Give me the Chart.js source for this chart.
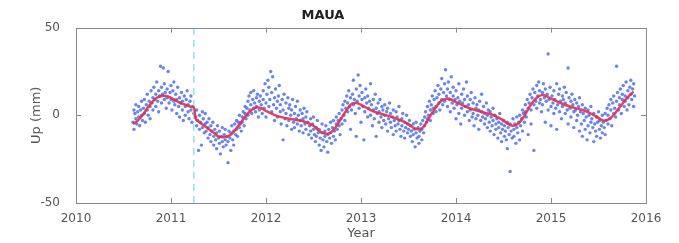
<!DOCTYPE html>
<html lang="en">
<head>
    <meta charset="UTF-8">
    <title>MAUA</title>
    <script src="https://cdn.jsdelivr.net/npm/chart.js"></script>
    <style>
        body { margin: 0; background: #fff; }
        #chart { display: block; }
    </style>
</head>
<body>
<canvas id="chart" width="679" height="243"></canvas>
<script>
    // daily Up positions (decimal year, mm)
    const pts2010 = [[2010.60,-4],[2010.61,3],[2010.61,-8],[2010.62,1],[2010.63,-2],[2010.63,6],[2010.64,-5],[2010.65,2],[2010.66,-1],[2010.66,5],[2010.67,-6],[2010.68,3],[2010.69,0],[2010.69,8],[2010.70,-3],[2010.71,4],[2010.72,1],[2010.72,9],[2010.73,-4],[2010.74,6],[2010.75,3],[2010.75,12],[2010.76,0],[2010.77,8],[2010.78,5],[2010.78,-2],[2010.79,14],[2010.80,7],[2010.81,10],[2010.81,3],[2010.82,16],[2010.83,9],[2010.84,12],[2010.84,5],[2010.85,19],[2010.86,8],[2010.87,14],[2010.87,2],[2010.88,11],[2010.89,28],[2010.90,16],[2010.90,7],[2010.91,12],[2010.92,27],[2010.93,9],[2010.93,18],[2010.94,13],[2010.95,4],[2010.96,15],[2010.96,10],[2010.97,25],[2010.98,7],[2010.99,13]];
    const pts2011 = [[2011.00,17],[2011.00,9],[2011.01,3],[2011.02,14],[2011.03,8],[2011.03,19],[2011.04,6],[2011.05,12],[2011.06,1],[2011.06,9],[2011.07,16],[2011.08,5],[2011.09,10],[2011.09,-1],[2011.10,7],[2011.11,13],[2011.12,3],[2011.12,8],[2011.13,-3],[2011.14,11],[2011.15,5],[2011.15,0],[2011.16,9],[2011.17,14],[2011.18,2],[2011.18,6],[2011.19,-2],[2011.20,8],[2011.21,3],[2011.21,11],[2011.22,-4],[2011.23,5],[2011.24,1],
        [2011.26,-1],[2011.27,-6],[2011.27,3],[2011.28,-3],[2011.29,-20],[2011.30,0],[2011.30,-8],[2011.31,-4],[2011.32,-17],[2011.33,2],[2011.33,-7],[2011.34,-2],[2011.35,-10],[2011.36,-5],[2011.36,1],[2011.37,-9],[2011.38,-4],[2011.39,-13],[2011.39,-7],[2011.40,-2],[2011.41,-11],[2011.42,-6],[2011.42,-15],[2011.43,-9],[2011.44,-4],[2011.45,-12],[2011.45,-17],[2011.46,-8],[2011.47,-14],[2011.48,-10],[2011.48,-19],[2011.49,-6],[2011.50,-13],[2011.51,-16],[2011.51,-9],[2011.52,-22],[2011.53,-12],[2011.54,-7],[2011.54,-15],[2011.55,-18],
        [2011.56,-11],[2011.57,-14],[2011.57,-8],[2011.58,-17],[2011.59,-12],[2011.60,-27],[2011.60,-15],[2011.61,-9],[2011.62,-13],[2011.63,-20],[2011.63,-10],[2011.64,-6],[2011.65,-14],[2011.66,-9],[2011.66,-17],[2011.67,-5],[2011.68,-11],[2011.69,-3],[2011.69,-8],[2011.70,-12],[2011.71,-4],[2011.72,-7],[2011.72,0],[2011.73,-5],[2011.74,-9],[2011.75,-1],[2011.75,-4],[2011.76,2],[2011.77,-6],[2011.78,1],[2011.78,5],[2011.79,-2],[2011.80,4],[2011.81,8],[2011.81,0],[2011.82,11],[2011.83,3],[2011.84,6],[2011.84,13],[2011.85,1],[2011.86,9],[2011.87,4],[2011.87,14],[2011.88,7],[2011.89,2],[2011.90,10],[2011.90,5],[2011.91,12],[2011.92,-1],[2011.93,8],[2011.93,3],[2011.94,11],[2011.95,6],[2011.96,1],[2011.97,9],[2011.97,14],[2011.98,4],[2011.99,18]];
    const pts2012 = [[2012.00,7],[2012.00,-1],[2012.01,12],[2012.02,20],[2012.03,5],[2012.03,16],[2012.04,9],[2012.05,25],[2012.06,2],[2012.06,13],[2012.07,22],[2012.08,6],[2012.09,10],[2012.09,-3],[2012.10,15],[2012.11,4],[2012.12,8],[2012.12,-1],[2012.13,11],[2012.14,17],[2012.15,2],[2012.15,6],[2012.16,-5],[2012.17,9],[2012.18,-14],[2012.18,3],[2012.19,12],[2012.20,-2],[2012.21,7],[2012.21,1],[2012.22,-6],[2012.23,10],[2012.24,4],[2012.24,-3],[2012.25,6],[2012.26,0],[2012.27,-8],[2012.27,3],[2012.28,9],[2012.29,-4],[2012.30,1],[2012.30,-7],[2012.31,5],[2012.32,-2],[2012.33,8],[2012.33,-5],[2012.34,0],[2012.35,-9],[2012.36,3],[2012.36,-3],[2012.37,-6],[2012.38,1],[2012.39,-10],[2012.39,-2],[2012.40,4],[2012.41,-5],[2012.42,-1],[2012.42,-8],[2012.43,2],[2012.44,-4],[2012.45,-11],
        [2012.46,-6],[2012.47,-2],[2012.47,-9],[2012.48,-13],[2012.49,-5],[2012.50,-8],[2012.50,-1],[2012.51,-11],[2012.52,-15],[2012.53,-7],[2012.53,-12],[2012.54,-3],[2012.55,-10],[2012.56,-17],[2012.56,-8],[2012.57,-13],[2012.58,-20],[2012.59,-10],[2012.59,-5],[2012.60,-14],[2012.61,-18],[2012.62,-9],[2012.62,-12],[2012.63,-6],[2012.64,-15],[2012.65,-11],[2012.65,-21],[2012.66,-8],[2012.67,-13],[2012.68,-4],[2012.68,-10],[2012.69,-16],[2012.70,-7],[2012.71,-12],[2012.71,-3],[2012.72,-9],[2012.73,-14],[2012.74,-5],[2012.74,-1],[2012.75,-8],[2012.76,-3],[2012.77,1],[2012.77,-6],[2012.78,-11],[2012.79,-2],[2012.80,3],[2012.80,-5],[2012.81,6],[2012.82,0],[2012.83,8],[2012.83,-3],[2012.84,4],[2012.85,11],[2012.86,2],[2012.86,7],[2012.87,14],[2012.88,5],[2012.89,10],[2012.89,-8],[2012.90,3],
        [2012.91,12],[2012.92,6],[2012.92,20],[2012.93,9],[2012.94,1],[2012.95,15],[2012.95,-12],[2012.96,8],[2012.97,23],[2012.98,4],[2012.98,11],[2012.99,17]];
    const pts2013 = [[2013.00,-4],[2013.01,9],[2013.01,13],[2013.02,5],[2013.03,-14],[2013.04,10],[2013.04,2],[2013.05,15],[2013.06,7],[2013.07,-1],[2013.07,11],[2013.08,4],[2013.09,8],[2013.10,18],[2013.10,0],[2013.11,6],[2013.12,-6],[2013.13,9],[2013.13,3],[2013.14,-2],[2013.15,12],[2013.16,4],[2013.16,-12],[2013.17,1],[2013.18,7],[2013.19,-4],[2013.19,2],[2013.20,9],[2013.21,-1],[2013.22,5],[2013.22,-7],[2013.23,3],[2013.24,-3],[2013.25,6],[2013.25,0],[2013.26,-5],[2013.27,2],[2013.28,-9],[2013.28,4],[2013.29,-2],[2013.30,7],[2013.31,-4],[2013.31,1],[2013.32,-7],[2013.33,-1],[2013.34,3],[2013.34,-11],[2013.35,-3],[2013.36,-6],[2013.37,2],[2013.37,-9],[2013.38,-1],[2013.39,-5],[2013.40,5],[2013.40,-3],[2013.41,-8],[2013.42,-12],[2013.43,-2],[2013.43,-6],[2013.44,1],[2013.45,-9],[2013.46,-4],[2013.46,-13],[2013.47,-7],[2013.48,0],[2013.49,-10],[2013.49,-5],[2013.50,-8],[2013.51,-3],[2013.52,-12],[2013.52,-6],[2013.53,-9],[2013.54,-15],[2013.55,-5],[2013.55,-11],[2013.56,-8],[2013.57,-18],[2013.58,-10],[2013.58,-4],[2013.59,-13],[2013.60,-7],
        [2013.61,-12],[2013.61,-16],[2013.62,-9],[2013.63,-5],[2013.64,-14],[2013.64,-8],[2013.65,-3],[2013.66,-10],[2013.67,-1],[2013.67,-6],[2013.68,2],[2013.69,-4],[2013.70,5],[2013.70,-2],[2013.71,0],[2013.72,8],[2013.73,3],[2013.73,-3],[2013.74,6],[2013.75,11],[2013.76,1],[2013.76,4],[2013.77,9],[2013.78,14],[2013.79,5],[2013.79,2],[2013.80,10],[2013.81,17],[2013.82,7],[2013.82,12],[2013.83,3],[2013.84,15],[2013.85,9],[2013.85,21],[2013.86,6],[2013.87,13],[2013.88,18],[2013.88,8],[2013.89,26],[2013.90,11],
        [2013.91,15],[2013.91,5],[2013.92,19],[2013.93,9],[2013.94,13],[2013.94,2],[2013.95,22],[2013.96,7],[2013.97,11],[2013.97,16],[2013.98,4],[2013.99,9]];
    const pts2014 = [[2014.00,-2],[2014.00,14],[2014.01,6],[2014.02,10],[2014.03,18],[2014.03,1],[2014.04,8],[2014.05,-5],[2014.06,12],[2014.06,4],[2014.07,7],[2014.08,15],[2014.09,0],[2014.09,9],[2014.10,5],[2014.11,19],[2014.12,2],[2014.12,11],[2014.13,6],[2014.14,-3],[2014.15,9],[2014.15,3],[2014.16,13],[2014.17,-1],[2014.18,7],[2014.18,1],[2014.19,-6],[2014.20,10],[2014.21,4],[2014.21,-2],[2014.22,6],[2014.23,0],[2014.24,-8],[2014.24,3],[2014.25,8],[2014.26,-3],[2014.27,2],[2014.27,12],[2014.28,-1],[2014.29,5],[2014.30,-5],[2014.30,1],[2014.31,-2],[2014.32,7],[2014.33,-7],[2014.33,0],[2014.34,3],[2014.35,-4],[2014.36,-9],[2014.36,2],[2014.37,-1],[2014.38,-6],[2014.39,4],[2014.39,-3],[2014.40,-11],[2014.41,0],[2014.42,-5],[2014.42,-8],[2014.43,-2],[2014.44,-13],[2014.45,-4],[2014.45,-7],[2014.46,1],[2014.47,-10],[2014.48,-5],[2014.48,-15],[2014.49,-8],[2014.50,-3],[2014.51,-12],[2014.51,-6],[2014.52,-9],[2014.53,-14],[2014.54,-4],[2014.54,-19],[2014.55,-7],[2014.56,-11],[2014.57,-32],[2014.57,-5],[2014.58,-9],[2014.59,-13],[2014.60,-2],
        [2014.61,-8],[2014.61,-12],[2014.62,-5],[2014.63,-16],[2014.64,-7],[2014.64,-1],[2014.65,-10],[2014.66,-4],[2014.67,-14],[2014.67,0],[2014.68,-6],[2014.69,-2],[2014.70,3],[2014.70,-9],[2014.71,1],[2014.72,-4],[2014.73,6],[2014.73,2],[2014.74,-1],[2014.75,9],[2014.76,4],[2014.76,-11],[2014.77,7],[2014.78,12],[2014.79,3],[2014.79,-5],[2014.80,10],[2014.81,15],[2014.82,6],[2014.82,-20],[2014.83,13],[2014.84,8],[2014.85,17],[2014.85,4],[2014.86,11],[2014.87,19],[2014.88,7],[2014.88,14],[2014.89,9],[2014.90,2],
        [2014.91,13],[2014.91,6],[2014.92,18],[2014.93,10],[2014.94,-4],[2014.94,15],[2014.95,8],[2014.96,12],[2014.97,35],[2014.97,3],[2014.98,9],[2014.99,16]];
    const pts2015 = [[2015.00,5],[2015.00,-6],[2015.01,11],[2015.02,7],[2015.03,14],[2015.03,1],[2015.04,9],[2015.05,4],[2015.06,18],[2015.06,-8],[2015.07,6],[2015.08,12],[2015.09,2],[2015.09,15],[2015.10,8],[2015.11,-2],[2015.12,11],[2015.12,5],[2015.13,9],[2015.14,16],[2015.15,1],[2015.15,7],[2015.16,13],[2015.17,3],[2015.18,27],[2015.18,-5],[2015.19,10],[2015.20,4],[2015.21,8],[2015.21,-1],[2015.22,12],[2015.23,6],[2015.24,2],[2015.24,-7],[2015.25,9],[2015.26,3],[2015.27,-3],[2015.27,7],[2015.28,0],[2015.29,5],[2015.30,-9],[2015.30,10],[2015.31,2],[2015.32,-5],[2015.33,6],[2015.33,-12],[2015.34,1],[2015.35,-3],[2015.36,4],[2015.36,-8],[2015.37,-1],[2015.38,-14],[2015.39,3],[2015.39,-6],[2015.40,0],[2015.41,-10],[2015.42,-4],[2015.42,5],[2015.43,-2],[2015.44,-7],[2015.45,1],[2015.45,-15],[2015.46,-5],[2015.47,-9],[2015.48,-1],[2015.48,-12],[2015.49,-4],[2015.50,2],[2015.51,-8],[2015.51,-3],[2015.52,-13],[2015.53,-6],[2015.54,0],[2015.54,-10],[2015.55,-4],
        [2015.56,-7],[2015.57,1],[2015.57,-11],[2015.58,-3],[2015.59,4],[2015.60,-5],[2015.60,0],[2015.61,6],[2015.62,-2],[2015.63,9],[2015.63,3],[2015.64,-6],[2015.65,7],[2015.66,1],[2015.66,11],[2015.67,4],[2015.68,-1],[2015.69,28],[2015.69,8],[2015.70,13],[2015.71,3],[2015.72,10],[2015.72,6],[2015.73,15],[2015.74,1],[2015.75,9],[2015.75,12],[2015.76,17],[2015.77,5],[2015.78,11],[2015.78,8],[2015.79,19],[2015.80,3],[2015.81,14],[2015.81,10],[2015.82,6],[2015.83,16],[2015.84,12],[2015.84,20],[2015.85,9],[2015.86,15],[2015.87,5],[2015.87,18],[2015.88,11]];

    // fitted model (red curve)
    const fitYears = [2010.60,2010.65,2010.70,2010.75,2010.80,2010.85,2010.90,2010.95,2011.00,2011.05,2011.10,2011.15,2011.20,2011.24,2011.26,2011.30,2011.35,2011.40,2011.45,2011.50,2011.55,2011.60,2011.65,2011.70,2011.75,2011.80,2011.85,2011.90,2011.95,2012.00,2012.10,2012.20,2012.30,2012.40,2012.50,2012.55,2012.60,2012.65,2012.70,2012.75,2012.80,2012.85,2012.90,2012.95,2013.00,2013.10,2013.20,2013.30,2013.40,2013.50,2013.55,2013.60,2013.65,2013.70,2013.75,2013.80,2013.85,2013.90,2013.95,2014.00,2014.10,2014.20,2014.30,2014.40,2014.50,2014.55,2014.60,2014.65,2014.70,2014.75,2014.80,2014.85,2014.90,2014.95,2015.00,2015.10,2015.20,2015.30,2015.40,2015.50,2015.55,2015.60,2015.65,2015.70,2015.75,2015.80,2015.87];
    const fitUp = [-5,-3,0,4,7.5,10,11,11,10,8.5,7,6,5,4.5,-2,-4,-6,-8,-10,-12,-12.5,-12,-10,-6.5,-3,0.5,3,4.5,4,2.5,0,-1.5,-2.5,-3.5,-6,-8.5,-10,-10.5,-9,-5.5,-1,3,6.5,7,6,3,1,-0.5,-2.5,-5,-7,-8,-7,-3,1.5,5.5,8.5,9.5,9,7.5,5,3,1.5,0,-3,-5,-6,-5,-2,2.5,7,10,11.5,11,9.5,7,5,3.5,1.5,-1.5,-3,-2.5,-0.5,3,6.5,10,13.5];

    // antenna / equipment change (dashed cyan)
    const offsetYear = 2011.24;
    const yTicks = [-50, 0, 50];

    const upPoints = [].concat(pts2010, pts2011, pts2012, pts2013, pts2014, pts2015).map(p => ({ x: p[0], y: p[1] }));
    const fitPoints = fitYears.map((x, i) => ({ x: x, y: fitUp[i] }));

    // MATLAB-like box with inward ticks
    const boxPlugin = {
        id: 'box',
        afterDraw(chart) {
            const { ctx, chartArea: a, scales } = chart;
            ctx.save();
            ctx.strokeStyle = '#8a8a8a';
            ctx.lineWidth = 1;
            ctx.strokeRect(Math.round(a.left) + 0.5, Math.round(a.top) + 0.5, Math.round(a.right - a.left), Math.round(a.bottom - a.top));
            ctx.beginPath();
            for (let yr = 2011; yr <= 2015; yr++) {
                const x = Math.round(scales.x.getPixelForValue(yr)) + 0.5;
                ctx.moveTo(x, a.bottom); ctx.lineTo(x, a.bottom - 5);
                ctx.moveTo(x, a.top); ctx.lineTo(x, a.top + 5);
            }
            const y0 = Math.round(scales.y.getPixelForValue(0)) + 0.5;
            ctx.moveTo(a.left, y0); ctx.lineTo(a.left + 5, y0);
            ctx.moveTo(a.right, y0); ctx.lineTo(a.right - 5, y0);
            ctx.stroke();
            ctx.restore();
        }
    };

    new Chart(document.getElementById('chart'), {
        type: 'scatter',
        data: {
            datasets: [
                {
                    label: 'fit',
                    type: 'line',
                    data: fitPoints,
                    borderColor: 'rgba(232,45,70,0.9)',
                    borderWidth: 2.5,
                    pointRadius: 0,
                    tension: 0.4,
                    fill: false,
                    order: 0
                },
                {
                    label: 'offset',
                    type: 'line',
                    data: [{ x: offsetYear, y: -50 }, { x: offsetYear, y: 50 }],
                    borderColor: '#8fe4f2',
                    borderWidth: 1.5,
                    borderDash: [7, 5],
                    pointRadius: 0,
                    order: 1
                },
                {
                    label: 'Up',
                    data: upPoints,
                    backgroundColor: 'rgba(40,80,235,0.7)',
                    borderWidth: 0,
                    pointRadius: 1.7,
                    order: 2
                }
            ]
        },
        options: {
            responsive: false,
            animation: false,
            devicePixelRatio: 1,
            layout: { padding: { left: 0, right: 33, top: 0, bottom: 0 } },
            plugins: {
                legend: { display: false },
                tooltip: { enabled: false },
                title: {
                    display: true,
                    text: 'MAUA',
                    color: '#222',
                    font: { family: 'DejaVu Sans', size: 13, weight: 'bold' },
                    padding: { top: 8, bottom: 4 }
                }
            },
            scales: {
                x: {
                    type: 'linear',
                    min: 2010,
                    max: 2016,
                    grid: { display: false },
                    border: { display: false },
                    ticks: {
                        stepSize: 1,
                        color: '#555',
                        padding: 1,
                        font: { family: 'DejaVu Sans', size: 12 },
                        callback: v => String(v)
                    },
                    title: {
                        display: true,
                        text: 'Year',
                        color: '#555',
                        font: { family: 'DejaVu Sans', size: 13 },
                        padding: 2
                    },
                    afterFit: s => { s.height = 40; }
                },
                y: {
                    min: -50,
                    max: 50,
                    grid: { display: false },
                    border: { display: false },
                    afterBuildTicks: s => { s.ticks = yTicks.map(v => ({ value: v })); },
                    ticks: {
                        color: '#555',
                        padding: 8,
                        font: { family: 'DejaVu Sans', size: 12 }
                    },
                    title: {
                        display: true,
                        text: 'Up (mm)',
                        color: '#555',
                        font: { family: 'DejaVu Sans', size: 13 },
                        padding: 29
                    },
                    afterFit: s => { s.width = 76; }
                }
            }
        },
        plugins: [boxPlugin]
    });
</script>
</body>
</html>
